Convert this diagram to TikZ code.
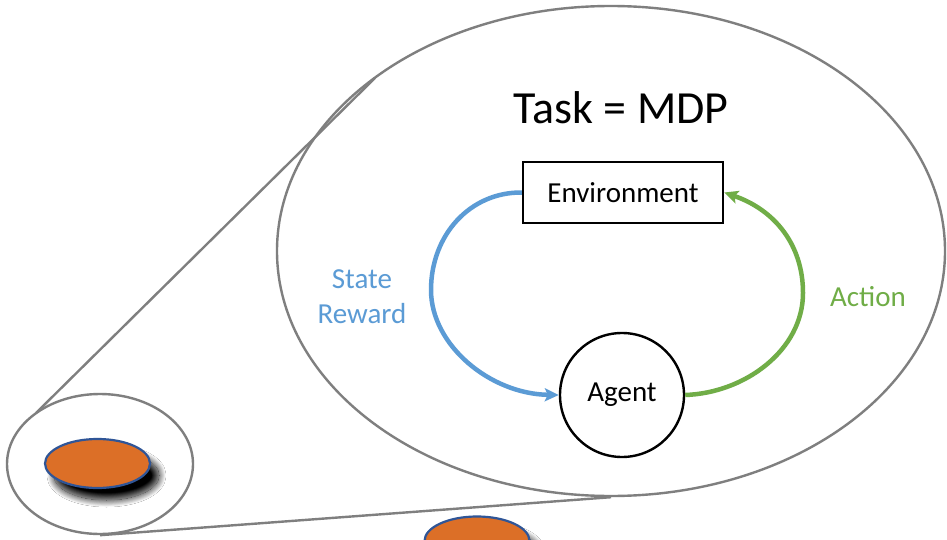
\documentclass[tikz,border=0pt]{standalone}
\usepackage{fontspec}
\setmainfont{Carlito}
\usetikzlibrary{shapes.geometric,arrows.meta,shadows.blur}
\definecolor{lensgray}{HTML}{7F7F7F}
\definecolor{stateblue}{HTML}{5B9BD5}
\definecolor{actgreen}{HTML}{70AD47}
\definecolor{diskorange}{HTML}{DC6F27}
\definecolor{diskblue}{HTML}{2F5597}
\tikzset{
  lens/.style={ellipse, draw=lensgray, line width=2.4pt, inner sep=0pt},
  lensline/.style={draw=lensgray, line width=2.4pt},
  disk/.style={ellipse, fill=diskorange, draw=diskblue, line width=2.2pt, inner sep=0pt,
    minimum width=105pt, minimum height=49pt,
    blur shadow={shadow xshift=9pt, shadow yshift=-12pt, shadow blur radius=7pt, shadow blur steps=30, shadow opacity=100}},
  envbox/.style={rectangle, draw=black, line width=2.4pt, minimum width=200pt, minimum height=61pt, inner sep=0pt,
    font=\fontsize{29}{34}\selectfont},
  agentnode/.style={circle, draw=black, line width=2.4pt, minimum size=124pt, inner sep=0pt,
    font=\fontsize{29}{34}\selectfont},
  lbl/.style={font=\fontsize{29}{35}\selectfont, align=center, inner sep=0pt},
  flow/.style={line width=4.5pt, -{Stealth[length=14pt,width=13pt,inset=3pt]}},
}
\begin{document}
\begin{tikzpicture}[x=1pt,y=-1pt]
\clip (0,0) rectangle (947,540);
\fill[white] (0,0) rectangle (947,540);
% lens ellipses
\node[lens, minimum width=668pt, minimum height=490pt] (big) at (611,251) {};
\node[lens, minimum width=186pt, minimum height=140pt] (small) at (100,464) {};
% tangent lines
\coordinate (su) at (36,413);
\coordinate (bu) at (375,78);
\draw[lensline] (su) -- (bu);
\draw[lensline] (small.south) -- (big.south);
% disks
\node[disk] (d1) at (97.5,463.5) {};
\node[disk] (d2) at (477,541) {};
% MDP
\node[lbl, font=\fontsize{46}{52}\selectfont] (task) at (621,108) {Task = MDP};
\node[envbox] (env) at (623,192.5) {Environment};
\node[agentnode] (agent) at (622,395) {Agent};
\node[lbl, text=stateblue] (sr) at (362,297) {State\\Reward};
\node[lbl, text=actgreen] (act) at (868,297) {Action};
\draw[flow, stateblue] (env.west) .. controls (470,192) and (431,235) .. (431,290)
  .. controls (431,345) and (490,394) .. (agent.west);
\draw[flow, actgreen] (agent.east) .. controls (745,393) and (803,350) .. (803,293)
  .. controls (803,245) and (775,210) .. (env.east);
\end{tikzpicture}
\end{document}
